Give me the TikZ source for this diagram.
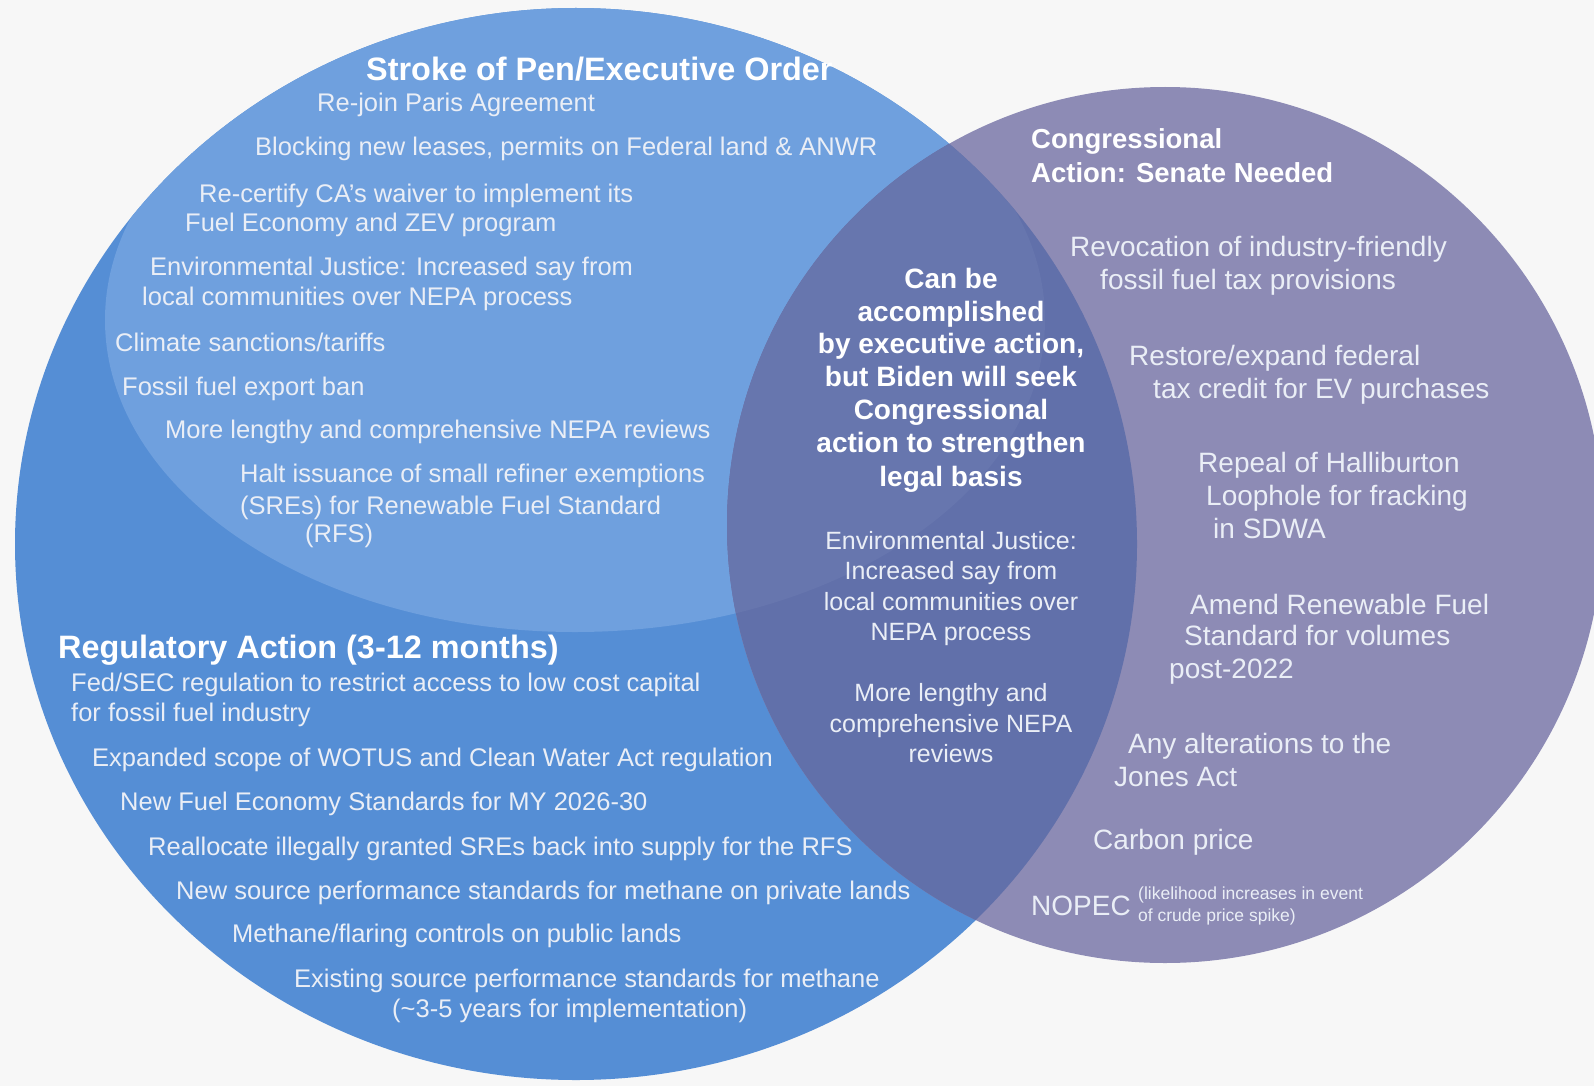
\documentclass[tikz,border=0pt]{standalone}
\usepackage{fontspec}
\setmainfont{Liberation Sans}
\definecolor{pagebg}{RGB}{247,247,247}
\definecolor{regblue}{RGB}{85,142,213}
\definecolor{penblue}{RGB}{111,160,222}
\definecolor{congviolet}{RGB}{141,139,181}
\definecolor{bothdark}{RGB}{97,112,170}
\definecolor{bothlight}{RGB}{103,118,174}
\definecolor{txt}{RGB}{234,238,246}
\begin{document}
\begin{tikzpicture}[x=1pt,y=-1pt,
  lbl/.style={inner sep=0pt,text=txt},
  item/.style={lbl,anchor=base west,font=\fontsize{25.5}{30.6}\selectfont},
  pitem/.style={lbl,anchor=base west,font=\fontsize{28}{33.6}\selectfont},
  citem/.style={lbl,anchor=base,font=\fontsize{25}{30}\selectfont},
  cbold/.style={inner sep=0pt,text=white,anchor=base,font=\bfseries\fontsize{28}{33.6}\selectfont},
  head/.style={inner sep=0pt,text=white,anchor=base west,font=\bfseries\fontsize{32.4}{39}\selectfont},
  phead/.style={inner sep=0pt,text=white,anchor=base west,font=\bfseries\fontsize{27.5}{33}\selectfont},
  tiny/.style={lbl,anchor=base west,font=\fontsize{17.5}{21}\selectfont}]
\useasboundingbox (0,0) rectangle (1594,1086);
\fill[pagebg] (0,0) rectangle (1594,1086);

% regulatory circle and the executive-order region inside it
\fill[regblue] (576,544) ellipse [x radius=561pt, y radius=536pt];
\begin{scope}
  \clip (576,544) ellipse [x radius=561pt, y radius=536pt];
  \fill[penblue] (575,320) ellipse [x radius=470pt, y radius=312pt];
\end{scope}

% congressional circle and the overlap
\fill[congviolet] (1165,525) circle [radius=438pt];
\begin{scope}
  \clip (576,544) ellipse [x radius=561pt, y radius=536pt];
  \fill[bothdark] (1165,525) circle [radius=438pt];
  \clip (575,320) ellipse [x radius=470pt, y radius=312pt];
  \fill[bothlight] (1165,525) circle [radius=438pt];
\end{scope}

% stroke of pen / executive order
\node[head] (penhead) at (366,81) {Stroke of Pen/Executive Order};
\node[item] (s1)  at (317,112) {Re-join Paris Agreement};
\node[item] (s2)  at (255,156) {Blocking new leases, permits on Federal land \& ANWR};
\node[item] (s3a) at (199,202) {Re-certify CA’s waiver to implement its};
\node[item] (s3b) at (185,231.5) {Fuel Economy and ZEV program};
\node[item] (s4a) at (150,275) {Environmental Justice: Increased say from};
\node[item] (s4b) at (142,305) {local communities over NEPA process};
\node[item] (s5)  at (115,351) {Climate sanctions/tariffs};
\node[item] (s6)  at (122,395) {Fossil fuel export ban};
\node[item] (s7)  at (165,438) {More lengthy and comprehensive NEPA reviews};
\node[item] (s8a) at (240,482) {Halt issuance of small refiner exemptions};
\node[item] (s8b) at (240,514) {(SREs) for Renewable Fuel Standard};
\node[item] (s8c) at (305,542) {(RFS)};

% regulatory action
\node[head] (reghead) at (58,658) {Regulatory Action (3-12 months)};
\node[item] (r1a) at (71,691.5) {Fed/SEC regulation to restrict access to low cost capital};
\node[item] (r1b) at (71,721) {for fossil fuel industry};
\node[item] (r2)  at (92,766) {Expanded scope of WOTUS and Clean Water Act regulation};
\node[item] (r3)  at (120,810) {New Fuel Economy Standards for MY 2026-30};
\node[item] (r4)  at (148,855) {Reallocate illegally granted SREs back into supply for the RFS};
\node[item] (r5)  at (176,899) {New source performance standards for methane on private lands};
\node[item] (r6)  at (232,942) {Methane/flaring controls on public lands};
\node[item] (r7a) at (294,987) {Existing source performance standards for methane};
\node[item] (r7b) at (392,1017) {(\textasciitilde3-5 years for implementation)};

% overlap
\node[cbold] (c1) at (951,288) {Can be};
\node[cbold] (c2) at (951,321) {accomplished};
\node[cbold] (c3) at (951,353) {by executive action,};
\node[cbold] (c4) at (951,386) {but Biden will seek};
\node[cbold] (c5) at (951,419) {Congressional};
\node[cbold] (c6) at (951,452.5) {action to strengthen};
\node[cbold] (c7) at (951,486) {legal basis};
\node[citem] (e1) at (951,549) {Environmental Justice:};
\node[citem] (e2) at (951,579.5) {Increased say from};
\node[citem] (e3) at (951,610) {local communities over};
\node[citem] (e4) at (951,640.5) {NEPA process};
\node[citem] (n1) at (951,701.5) {More lengthy and};
\node[citem] (n2) at (951,732) {comprehensive NEPA};
\node[citem] (n3) at (951,762.5) {reviews};

% congressional action
\node[phead] (conghead1) at (1031,149) {Congressional};
\node[phead] (conghead2) at (1031,182.5) {Action: Senate Needed};
\node[pitem] (p1a) at (1070,256) {Revocation of industry-friendly};
\node[pitem] (p1b) at (1100,289) {fossil fuel tax provisions};
\node[pitem] (p2a) at (1129,365) {Restore/expand federal};
\node[pitem] (p2b) at (1153,398) {tax credit for EV purchases};
\node[pitem] (p3a) at (1198,472) {Repeal of Halliburton};
\node[pitem] (p3b) at (1206,505) {Loophole for fracking};
\node[pitem] (p3c) at (1213,538) {in SDWA};
\node[pitem] (p4a) at (1190,614) {Amend Renewable Fuel};
\node[pitem] (p4b) at (1184,645) {Standard for volumes};
\node[pitem] (p4c) at (1169,678) {post-2022};
\node[pitem] (p5a) at (1128,753) {Any alterations to the};
\node[pitem] (p5b) at (1114,786.5) {Jones Act};
\node[pitem] (p6)  at (1093,849) {Carbon price};
\node[pitem] (p7)  at (1031,915) {NOPEC};
\node[tiny] (p7a) at (1138,899.5) {(likelihood increases in event};
\node[tiny] (p7b) at (1138,921) {of crude price spike)};
\end{tikzpicture}
\end{document}
